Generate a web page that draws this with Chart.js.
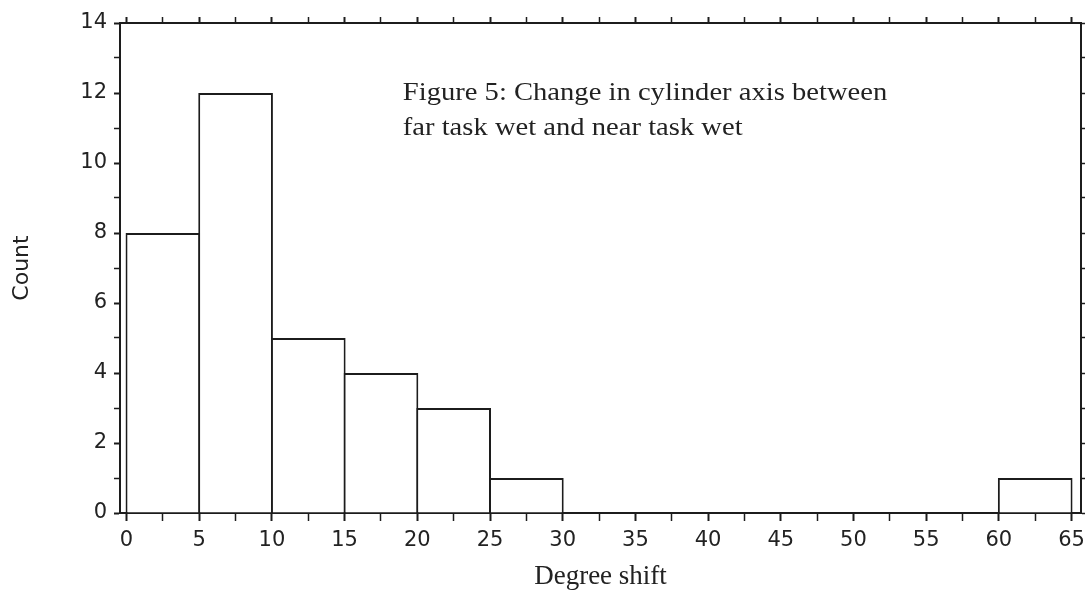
<!DOCTYPE html>
<html><head><meta charset="utf-8">
<script src="https://cdn.jsdelivr.net/npm/chart.js@4/dist/chart.umd.min.js"></script>
<style>html,body{margin:0;padding:0;background:#fff;}canvas{display:block;}</style>
</head><body>
<canvas id="c" width="1086" height="598"></canvas>
<script>
// ---- data ----
const binStarts = [0, 5, 10, 15, 20, 25, 30, 35, 40, 45, 50, 55, 60];
const binWidth = 5;
const counts = [8, 12, 5, 4, 3, 1, 0, 0, 0, 0, 0, 0, 1];
const xLabelTicks = [0, 5, 10, 15, 20, 25, 30, 35, 40, 45, 50, 55, 60, 65];
const yLabelTicks = [0, 2, 4, 6, 8, 10, 12, 14];
const xTitle = 'Degree shift';
const yTitle = 'Count';
const noteLines = ['Figure 5: Change in cylinder axis between', 'far task wet and near task wet'];

// ---- styling ----
const INK = '#1c1c1c';
const TXT = '#222';
const X_MIN = -0.45, X_MAX = 65.65, Y_MIN = 0, Y_MAX = 14;
const NOTE_X = 19.0, NOTE_Y = 11.8;

const points = binStarts.map((s, i) => ({ x: s + binWidth / 2, y: counts[i] }));

const notePlugin = {
  id: 'note',
  afterDraw(chart) {
    const { ctx, scales: { x, y } } = chart;
    ctx.save();
    ctx.font = '26px "Liberation Serif", "Times New Roman", serif';
    ctx.fillStyle = TXT;
    ctx.textBaseline = 'alphabetic';
    ctx.textAlign = 'left';
    const px = x.getPixelForValue(NOTE_X), py = y.getPixelForValue(NOTE_Y);
    ctx.translate(px, py);
    ctx.scale(1.1, 1);
    noteLines.forEach((t, i) => ctx.fillText(t, 0, i * 35));
    ctx.restore();
  }
};

const tickFont = { family: '"DejaVu Sans", "Liberation Sans", sans-serif', size: 21 };
const isMajorX = v => xLabelTicks.some(t => Math.abs(t - v) < 1e-6);
const isMajorY = v => yLabelTicks.some(t => Math.abs(t - v) < 1e-6);
const wX = c => (c && c.tick && isMajorX(c.tick.value) ? 2 : 1.5);
const wY = c => (c && c.tick && isMajorY(c.tick.value) ? 2 : 1.5);
const noSidePad = s => { s.paddingLeft = 0; s.paddingRight = 0; };

new Chart(document.getElementById('c'), {
  type: 'bar',
  data: {
    datasets: [{
      data: points,
      backgroundColor: '#ffffff',
      borderColor: INK,
      borderWidth: ctx => (ctx.raw && ctx.raw.y === 0 ? 0 : 2),
      borderSkipped: 'start',
      barPercentage: 2.055,
      categoryPercentage: 1
    }]
  },
  options: {
    responsive: false,
    animation: false,
    events: [],
    layout: { padding: { left: 0, top: 17, right: 1, bottom: 0 } },
    plugins: { legend: { display: false }, tooltip: { enabled: false }, title: { display: false } },
    scales: {
      x: {
        type: 'linear', position: 'bottom', min: X_MIN, max: X_MAX, z: 1, offset: false,
        afterFit: s => { s.height = 85; noSidePad(s); },
        ticks: {
          stepSize: 2.5, includeBounds: false, autoSkip: false, maxRotation: 0,
          font: tickFont, color: TXT, padding: 7,
          callback: v => (isMajorX(v) ? String(v) : '')
        },
        grid: {
          offset: false, drawOnChartArea: false, drawTicks: true, tickLength: 8,
          tickColor: INK, tickWidth: wX
        },
        border: { display: true, color: INK, width: 2 },
        title: {
          display: true, text: xTitle, color: TXT,
          font: { family: '"Liberation Serif", "Times New Roman", serif', size: 27 },
          padding: { top: 2, bottom: 5 }
        }
      },
      x2: {
        type: 'linear', position: 'top', min: X_MIN, max: X_MAX, z: 1, offset: false,
        afterFit: s => { s.height = 6; noSidePad(s); },
        ticks: { display: false, stepSize: 2.5, includeBounds: false },
        grid: {
          offset: false, drawOnChartArea: false, drawTicks: true, tickLength: 6,
          tickColor: INK, tickWidth: wX
        },
        border: { display: true, color: INK, width: 2 }
      },
      y: {
        type: 'linear', position: 'left', min: Y_MIN, max: Y_MAX, z: 1,
        afterFit: s => { s.width = 120; },
        ticks: {
          stepSize: 1, autoSkip: false, font: tickFont, color: TXT, padding: 7,
          callback: v => (isMajorY(v) ? String(v) : '')
        },
        grid: {
          drawOnChartArea: false, drawTicks: true, tickLength: 6,
          tickColor: INK, tickWidth: wY
        },
        border: { display: true, color: INK, width: 2 },
        title: {
          display: true, text: yTitle, color: TXT,
          font: { family: '"DejaVu Sans", "Liberation Sans", sans-serif', size: 22 },
          padding: { top: 9, bottom: 0 }
        }
      },
      y2: {
        type: 'linear', position: 'right', min: Y_MIN, max: Y_MAX, z: 1,
        afterFit: s => { s.width = 4; },
        ticks: { display: false, stepSize: 1 },
        grid: {
          drawOnChartArea: false, drawTicks: true, tickLength: 4,
          tickColor: INK, tickWidth: 1.5
        },
        border: { display: true, color: INK, width: 2 }
      }
    }
  },
  plugins: [notePlugin]
});
</script>
</body></html>
